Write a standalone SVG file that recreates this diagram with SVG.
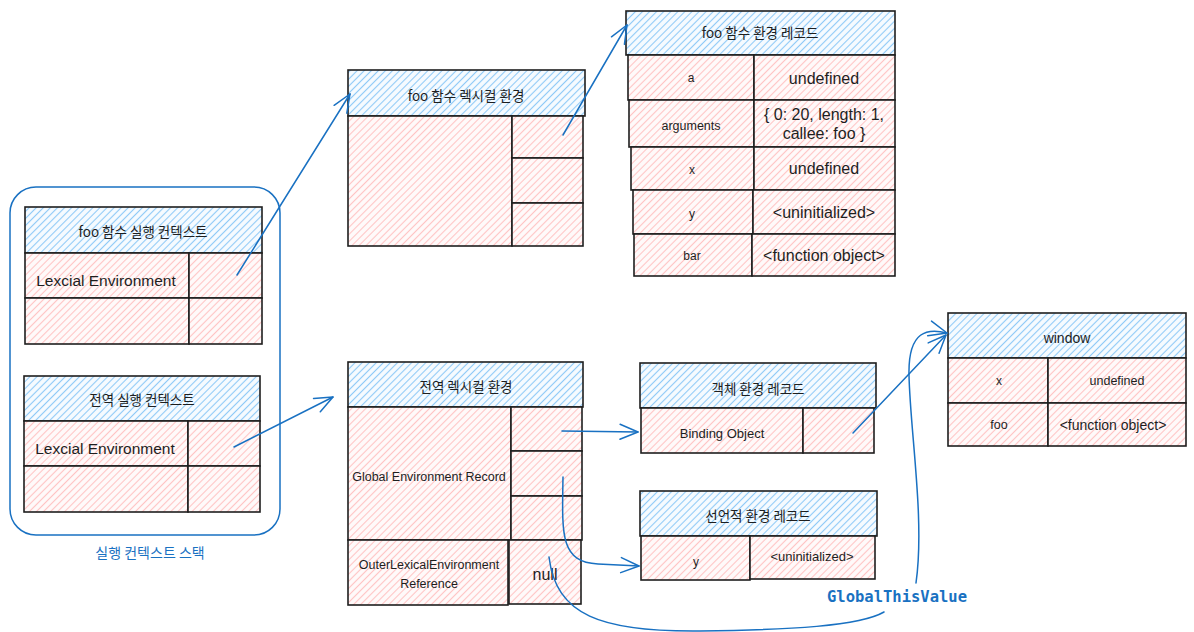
<svg xmlns="http://www.w3.org/2000/svg" width="1194" height="632" viewBox="0 0 1194 632">
<defs>
<pattern id="hb" width="5" height="5" patternUnits="userSpaceOnUse" patternTransform="rotate(-45)"><rect width="5" height="5" fill="#f6fbff"/><line x1="0" y1="2.5" x2="5" y2="2.5" stroke="#8fcaf7" stroke-width="1.1"/></pattern>
<pattern id="hr" width="5" height="5" patternUnits="userSpaceOnUse" patternTransform="rotate(-45)"><rect width="5" height="5" fill="#fffafa"/><line x1="0" y1="2.5" x2="5" y2="2.5" stroke="#ffc4c4" stroke-width="1.1"/></pattern>
<marker id="ah" viewBox="-20 -10 22 20" markerWidth="22" markerHeight="20" markerUnits="userSpaceOnUse" refX="0" refY="0" orient="auto" overflow="visible"><path d="M-18,-7.5 L0,0 L-18,7.5" fill="none" stroke="#1971c2" stroke-width="1.5" stroke-linecap="round" stroke-linejoin="round"/></marker>
<style>
.hb{fill:url(#hb);stroke:#1e1e1e;stroke-width:1.6}
.hr{fill:url(#hr);stroke:#1e1e1e;stroke-width:1.6}
.k{font-family:"Noto Sans CJK KR","Liberation Sans",sans-serif;font-size:13.5px;fill:#1e1e1e;text-anchor:middle;dominant-baseline:central}
.s{font-family:"Liberation Sans","Noto Sans CJK KR",sans-serif;fill:#1e1e1e;text-anchor:middle;dominant-baseline:central}
.c{fill:none;stroke:#1971c2;stroke-width:1.5;stroke-linecap:round}
</style>
</defs>
<rect width="1194" height="632" fill="#ffffff"/>

<g id="stack">
<rect x="10" y="187" width="270" height="348" rx="26" fill="none" stroke="#1971c2" stroke-width="1.5"/>
<text x="150" y="552" class="k" style="fill:#1971c2;font-size:14px">실행 컨텍스트 스택</text>
</g>

<g id="foo-exec-ctx">
<rect x="25" y="207" width="237" height="46" class="hb"/>
<text x="143" y="231" class="k">foo 함수 실행 컨텍스트</text>
<rect x="25" y="253" width="164" height="45" class="hr"/>
<text x="106" y="280" class="s" style="font-size:15.5px">Lexcial Environment</text>
<rect x="189" y="253" width="73" height="45" class="hr"/>
<rect x="25" y="298" width="164" height="46" class="hr"/>
<rect x="189" y="298" width="73" height="46" class="hr"/>
</g>

<g id="global-exec-ctx">
<rect x="24" y="376" width="236" height="45" class="hb"/>
<text x="142" y="399" class="k">전역 실행 컨텍스트</text>
<rect x="24" y="421" width="164" height="45" class="hr"/>
<text x="105" y="448" class="s" style="font-size:15.5px">Lexcial Environment</text>
<rect x="188" y="421" width="72" height="45" class="hr"/>
<rect x="24" y="466" width="164" height="46" class="hr"/>
<rect x="188" y="466" width="72" height="46" class="hr"/>
</g>

<g id="foo-lexical-env">
<rect x="348" y="70" width="237" height="46" class="hb"/>
<text x="466" y="95" class="k">foo 함수 렉시컬 환경</text>
<rect x="348" y="116" width="164" height="130" class="hr"/>
<rect x="512" y="116" width="71" height="42" class="hr"/>
<rect x="512" y="158" width="71" height="45" class="hr"/>
<rect x="512" y="203" width="71" height="43" class="hr"/>
</g>

<g id="foo-env-record">
<rect x="626" y="11" width="269" height="44" class="hb"/>
<text x="760" y="32" class="k">foo 함수 환경 레코드</text>
<rect x="628" y="55" width="126" height="45" class="hr"/>
<text x="691" y="78" class="s" style="font-size:12px">a</text>
<rect x="754" y="55" width="141" height="45" class="hr"/>
<text x="824" y="78" class="s" style="font-size:16px">undefined</text>
<rect x="629" y="100" width="125" height="47" class="hr"/>
<text x="691" y="126" class="s" style="font-size:12.5px">arguments</text>
<rect x="754" y="100" width="141" height="47" class="hr"/>
<text x="824" y="114" class="s" style="font-size:16px">{ 0: 20, length: 1,</text>
<text x="824" y="133" class="s" style="font-size:16px">callee: foo }</text>
<rect x="631" y="147" width="123" height="43" class="hr"/>
<text x="692" y="170" class="s" style="font-size:12px">x</text>
<rect x="754" y="147" width="141" height="43" class="hr"/>
<text x="824" y="168" class="s" style="font-size:16px">undefined</text>
<rect x="633" y="190" width="120" height="44" class="hr"/>
<text x="692" y="214" class="s" style="font-size:12px">y</text>
<rect x="753" y="190" width="142" height="44" class="hr"/>
<text x="824" y="212" class="s" style="font-size:16px">&lt;uninitialized&gt;</text>
<rect x="634" y="234" width="118" height="42" class="hr"/>
<text x="692" y="256" class="s" style="font-size:12px">bar</text>
<rect x="752" y="234" width="143" height="42" class="hr"/>
<text x="824" y="255" class="s" style="font-size:16px">&lt;function object&gt;</text>
</g>

<g id="global-lexical-env">
<rect x="348" y="362" width="235" height="45" class="hb"/>
<text x="466" y="386" class="k">전역 렉시컬 환경</text>
<rect x="348" y="407" width="163" height="133" class="hr"/>
<text x="429" y="477" class="s" style="font-size:12.5px">Global Environment Record</text>
<rect x="511" y="407" width="71" height="44" class="hr"/>
<rect x="511" y="451" width="71" height="45" class="hr"/>
<rect x="511" y="496" width="71" height="44" class="hr"/>
<rect x="348" y="540" width="160" height="65" class="hr"/>
<text x="429" y="565" class="s" style="font-size:12.5px">OuterLexicalEnvironment</text>
<text x="429" y="584" class="s" style="font-size:12.5px">Reference</text>
<rect x="509" y="540" width="72" height="64" class="hr"/>
<text x="545" y="574" class="s" style="font-size:16px">null</text>
</g>

<g id="object-env-record">
<rect x="640" y="363" width="236" height="45" class="hb"/>
<text x="758" y="388" class="k">객체 환경 레코드</text>
<rect x="641" y="408" width="162" height="45" class="hr"/>
<text x="722" y="433" class="s" style="font-size:13px">Binding Object</text>
<rect x="803" y="408" width="71" height="45" class="hr"/>
</g>

<g id="declarative-env-record">
<rect x="640" y="491" width="237" height="45" class="hb"/>
<text x="758" y="515" class="k">선언적 환경 레코드</text>
<rect x="641" y="536" width="109" height="44" class="hr"/>
<text x="696" y="562" class="s" style="font-size:12px">y</text>
<rect x="750" y="536" width="125" height="43" class="hr"/>
<text x="812" y="556" class="s" style="font-size:13px">&lt;uninitialized&gt;</text>
</g>

<g id="window">
<rect x="948" y="313" width="238" height="45" class="hb"/>
<text x="1067" y="338" class="s" style="font-size:14px">window</text>
<rect x="948" y="358" width="100" height="45" class="hr"/>
<text x="999" y="381" class="s" style="font-size:12px">x</text>
<rect x="1048" y="358" width="138" height="45" class="hr"/>
<text x="1117" y="381" class="s" style="font-size:12.5px">undefined</text>
<rect x="948" y="403" width="100" height="43" class="hr"/>
<text x="999" y="425" class="s" style="font-size:12.5px">foo</text>
<rect x="1048" y="403" width="138" height="43" class="hr"/>
<text x="1113" y="425" class="s" style="font-size:14px">&lt;function object&gt;</text>
</g>

<g id="connectors">
<line x1="237" y1="275" x2="350" y2="94" class="c" marker-end="url(#ah)"/>
<line x1="234" y1="447" x2="333" y2="397" class="c" marker-end="url(#ah)"/>
<line x1="563" y1="135" x2="627" y2="25" class="c" marker-end="url(#ah)"/>
<line x1="562" y1="431" x2="638" y2="432" class="c" marker-end="url(#ah)"/>
<path d="M563,477 C562,535 560,562 598,564 L639,566" class="c" marker-end="url(#ah)"/>
<line x1="853" y1="433" x2="946" y2="335" class="c" marker-end="url(#ah)"/>
<path d="M549,557 C556,615 600,632 700,631 C790,630 860,626 884,612" class="c"/>
<path d="M916,583 C925,520 910,430 909,375 C908,330 928,328 947,333" class="c" marker-end="url(#ah)"/>
<text x="897" y="597" style="font-family:'DejaVu Sans Mono',monospace;font-size:15.5px;font-weight:bold;fill:#1971c2;text-anchor:middle;dominant-baseline:central">GlobalThisValue</text>
</g>
</svg>
